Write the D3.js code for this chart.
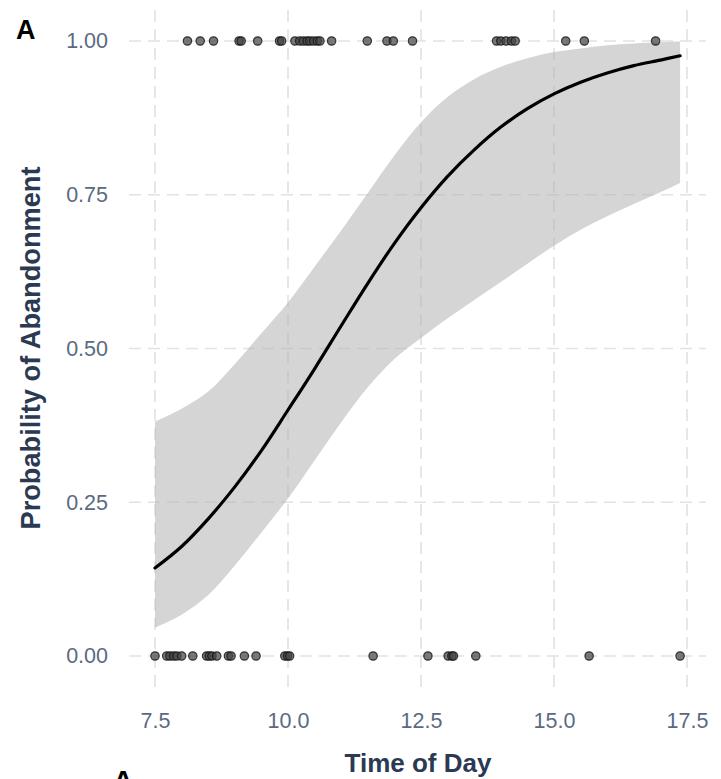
<!DOCTYPE html>
<html>
<head>
<meta charset="utf-8">
<script src="https://cdn.jsdelivr.net/npm/d3@7"></script>
<style>
  html, body { margin: 0; padding: 0; background: #ffffff; }
  svg { display: block; }
  text { font-family: "Liberation Sans", Arial, Helvetica, sans-serif; }
</style>
</head>
<body>
<div id="chart"></div>
<script>
// ---------- data ----------
const xTicks = [7.5, 10.0, 12.5, 15.0, 17.5];
const yTicks = [0.00, 0.25, 0.50, 0.75, 1.00];

// observed outcomes: abandoned (1) and not abandoned (0)
const abandonedTimes = [8.11, 8.35, 8.60, 9.08, 9.12, 9.43, 9.84, 9.88,
  10.13, 10.22, 10.29, 10.36, 10.41, 10.48, 10.55, 10.60, 10.82,
  11.49, 11.86, 11.98, 12.34, 13.92, 14.00, 14.10, 14.20, 14.27,
  15.22, 15.57, 16.91];
const notAbandonedTimes = [7.50, 7.72, 7.78, 7.85, 7.91, 8.00, 8.21,
  8.47, 8.52, 8.57, 8.66, 8.88, 8.93, 9.18, 9.40, 9.94, 9.99, 10.03,
  11.60, 12.63, 13.01, 13.08, 13.11, 13.53, 15.66, 17.37];

// fitted curve and confidence band
const curveX = [7.5, 8.0, 8.5, 9.0, 9.5, 10.0, 10.5, 11.0, 11.5, 12.0, 12.5,
  13.0, 13.5, 14.0, 14.5, 15.0, 15.5, 16.0, 16.5, 17.0, 17.37];
const fitP = [0.143, 0.178, 0.223, 0.275, 0.334, 0.400, 0.467, 0.537, 0.606,
  0.671, 0.729, 0.780, 0.823, 0.860, 0.890, 0.914, 0.933, 0.948, 0.960, 0.969, 0.976];
const upperP = [0.381, 0.402, 0.430, 0.475, 0.525, 0.575, 0.633, 0.692, 0.753,
  0.814, 0.868, 0.909, 0.938, 0.958, 0.972, 0.982, 0.988, 0.993, 0.996, 0.998, 0.999];
const lowerP = [0.046, 0.067, 0.099, 0.147, 0.201, 0.256, 0.318, 0.380, 0.437,
  0.483, 0.517, 0.549, 0.579, 0.608, 0.638, 0.667, 0.693, 0.715, 0.735, 0.754, 0.769];

const panelLabel = "A";
const xTitle = "Time of Day";
const yTitle = "Probability of Abandonment";

// ---------- layout ----------
const W = 721, H = 779;
const panel = { left: 129, right: 706, top: 10, bottom: 687 };

const svg = d3.select("#chart").append("svg")
  .attr("width", W).attr("height", H);

const x = d3.scaleLinear().domain([7.5, 17.5]).range([155, 687]);
const y = d3.scaleLinear().domain([0, 1]).range([656, 41]);

// ---------- grid ----------
const grid = svg.append("g");
const gridStyle = sel => sel.attr("stroke", "#e2e2e2")
  .attr("stroke-width", 1.6).attr("stroke-dasharray", "12,7");

grid.selectAll("line.vx").data(xTicks).join("line")
  .attr("class", "vx")
  .attr("x1", d => x(d)).attr("x2", d => x(d))
  .attr("y1", panel.top).attr("y2", panel.bottom)
  .call(gridStyle);
grid.selectAll("line.hy").data(yTicks).join("line")
  .attr("class", "hy")
  .attr("x1", panel.left).attr("x2", panel.right)
  .attr("y1", d => y(d)).attr("y2", d => y(d))
  .call(gridStyle);

// ---------- band ----------
const bandData = curveX.map((t, i) => ({ t, lo: lowerP[i], hi: upperP[i] }));
svg.append("path")
  .datum(bandData)
  .attr("fill", "#b2b2b2").attr("fill-opacity", 0.55)
  .attr("d", d3.area()
    .x(d => x(d.t)).y0(d => y(d.lo)).y1(d => y(d.hi))
    .curve(d3.curveCatmullRom.alpha(0.5)));

// ---------- points ----------
const pts = abandonedTimes.map(t => ({ t, v: 1 }))
  .concat(notAbandonedTimes.map(t => ({ t, v: 0 })));
svg.append("g").selectAll("circle").data(pts).join("circle")
  .attr("cx", d => x(d.t)).attr("cy", d => y(d.v)).attr("r", 4.2)
  .attr("fill", "#444444").attr("fill-opacity", 0.72)
  .attr("stroke", "#141414").attr("stroke-opacity", 0.8).attr("stroke-width", 1.2);

// ---------- fitted line ----------
const fitData = curveX.map((t, i) => ({ t, p: fitP[i] }));
svg.append("path")
  .datum(fitData)
  .attr("fill", "none").attr("stroke", "#000").attr("stroke-width", 3.2)
  .attr("stroke-linecap", "round")
  .attr("d", d3.line().x(d => x(d.t)).y(d => y(d.p)).curve(d3.curveCatmullRom.alpha(0.5)));

// ---------- axes (labels only) ----------
const tickColor = "#5a6a82";
const xAxis = svg.append("g")
  .attr("transform", `translate(0,${panel.bottom})`)
  .call(d3.axisBottom(x).tickValues(xTicks).tickFormat(d3.format(".1f"))
    .tickSize(0).tickPadding(26));
xAxis.select(".domain").remove();
xAxis.selectAll("text").attr("fill", tickColor).attr("font-size", "21.5px")
  .style("font-family", '"Liberation Sans", Arial, sans-serif');

const yAxis = svg.append("g")
  .attr("transform", `translate(${panel.left},0)`)
  .call(d3.axisLeft(y).tickValues(yTicks).tickFormat(d3.format(".2f"))
    .tickSize(0).tickPadding(21));
yAxis.select(".domain").remove();
yAxis.selectAll("text").attr("fill", tickColor).attr("font-size", "21.5px")
  .style("font-family", '"Liberation Sans", Arial, sans-serif');

// ---------- titles ----------
const titleColor = "#2b3953";
svg.append("text")
  .attr("x", 418).attr("y", 772)
  .attr("text-anchor", "middle")
  .attr("font-size", "26px").attr("font-weight", "bold")
  .attr("fill", titleColor)
  .text(xTitle);

svg.append("text")
  .attr("transform", "translate(40,348) rotate(-90)")
  .attr("text-anchor", "middle")
  .attr("font-size", "27.2px").attr("font-weight", "bold")
  .attr("fill", titleColor)
  .text(yTitle);

svg.append("text")
  .attr("x", 16).attr("y", 39)
  .attr("font-size", "27px").attr("font-weight", "bold")
  .attr("fill", "#000")
  .text(panelLabel);

// top of the next panel's label, cut off by the bottom edge as in the source
svg.append("text")
  .attr("x", 113).attr("y", 790)
  .attr("font-size", "28px").attr("font-weight", "bold")
  .attr("fill", "#000")
  .text(panelLabel);
</script>
</body>
</html>
